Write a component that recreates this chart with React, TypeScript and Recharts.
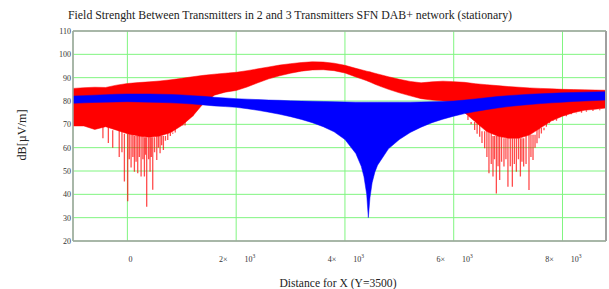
import {
  ComposedChart,
  Area,
  Line,
  XAxis,
  YAxis,
  CartesianGrid,
  ReferenceLine,
} from 'recharts'

// distance along X (Y=3500), sampled denser around the blue null
const X_POS = [
  -1000, -800, -600, -400, -200, 0, 200, 400, 600, 800,
  1000, 1200, 1400, 1600, 1800, 2000, 2200, 2400, 2600, 2800,
  3000, 3200, 3400, 3600, 3800, 4000, 4200,
  4300, 4350, 4400, 4430, 4460, 4500, 4550,
  4600, 4800, 5000, 5200, 5400, 5600, 5800, 6000,
  6200, 6400, 6600, 6800, 7000, 7200, 7400, 7600, 7800, 8000, 8200, 8400, 8600, 8800,
]

// 2 transmitters (red) – upper / lower envelope of the fading band, dB[µV/m]
const RED_HIGH = [
  85.4, 85.7, 85.9, 85.8, 86.8, 87.5, 87.9, 88.2, 88.6, 89.1,
  89.7, 90.4, 91.0, 91.5, 91.9, 92.3, 93.0, 93.8, 94.6, 95.4,
  96.0, 96.5, 96.8, 96.7, 96.2, 95.3, 94.0,
  93.4, 93.1, 92.8, 92.6, 92.5, 92.2, 91.9,
  91.6, 90.4, 89.3, 88.4, 87.8, 88.2, 88.5, 88.3,
  88.0, 87.4, 87.0, 86.6, 86.2, 85.9, 85.6, 85.4, 85.2, 85.0, 84.9, 84.8, 84.7, 84.6,
]
const RED_LOW = [
  69.3, 69.3, 67.8, 69.0, 67.5, 66.0, 65.0, 64.5, 65.0, 66.5,
  69.5, 73.5, 79.0, 82.5, 83.8, 84.5, 86.0, 87.8, 89.5, 90.8,
  91.9, 92.8, 93.3, 93.4, 93.0, 92.0, 90.3,
  89.5, 89.1, 88.7, 88.4, 88.1, 87.7, 87.2,
  86.7, 85.0, 83.5, 82.2, 81.0, 80.4, 80.0, 79.5,
  75.0, 71.0, 67.0, 65.0, 64.0, 64.0, 65.5, 68.5, 71.5, 73.5, 75.0, 76.0, 76.5, 77.0,
]

// 3 transmitters (blue)
const BLUE_HIGH = [
  82.1, 82.3, 82.5, 82.7, 82.9, 83.0, 83.0, 83.0, 82.9, 82.8,
  82.6, 82.3, 82.0, 81.6, 81.3, 81.0, 80.8, 80.6, 80.4, 80.3,
  80.1, 80.0, 79.9, 79.8, 79.7, 79.6, 79.5,
  79.5, 79.5, 79.5, 79.5, 79.5, 79.5, 79.5,
  79.5, 79.5, 79.5, 79.5, 79.6, 79.7, 79.8, 80.0,
  80.4, 80.9, 81.4, 81.9, 82.3, 82.6, 82.9, 83.1, 83.3, 83.5, 83.6, 83.8, 83.9, 84.0,
]
const BLUE_LOW = [
  79.0, 79.2, 79.4, 79.5, 79.6, 79.7, 79.6, 79.5, 79.4, 79.2,
  79.0, 78.7, 78.3, 77.9, 77.6, 77.3, 76.7, 76.0, 75.2, 74.3,
  73.3, 72.1, 70.7, 69.0, 66.8, 63.5, 57.5,
  52.0, 47.5, 40.0, 30.0, 38.5, 45.0, 49.5,
  52.5, 59.5, 63.5, 66.5, 68.8, 70.7, 72.2, 73.5,
  74.6, 75.5, 76.3, 77.0, 77.6, 78.1, 78.5, 78.9, 79.2, 79.5, 79.8, 80.0, 80.2, 80.4,
]

// deep fading notches of the red curve (position, depth)
const SPIKE_X = [
  -450, -350, -270, -150, -100, -55, 6, 35, 68, 100, 129, 160, 190, 220, 252, 285, 313, 335, 355, 390,
  417, 440, 466, 500, 540, 570, 601, 630, 662, 700, 742, 790, 834, 880, 926, 970, 1018, 1060, 1110, 1202,
  6262, 6320, 6385, 6430, 6477, 6520, 6569, 6610, 6648, 6690, 6722, 6750, 6784, 6815, 6845, 6880, 6924,
  6960, 6997, 7040, 7078, 7115, 7152, 7190, 7226, 7255, 7286, 7330, 7384, 7420, 7458, 7495, 7531, 7570,
  7612, 7660, 7704, 7760, 7826, 7890, 7949, 8010, 8072, 8160, 8256, 8350, 8440, 8560, 8685,
]
const SPIKE_DEPTH = [
  64, 62, 60, 56, 58, 45.5, 37, 55, 51.5, 56, 49.7, 54, 49, 56, 47.6, 55, 47.6, 57, 34.7, 55,
  49.7, 56, 42, 58, 54.7, 60, 57.6, 61, 59, 63, 63.3, 65, 66, 68, 69, 70.5, 72, 73, 74.7, 77,
  71.9, 70, 67.6, 66, 64.7, 62, 59.7, 56, 49, 53, 47.6, 55, 40.4, 52, 46.1, 54, 51.9,
  55, 43.3, 52, 43.3, 53, 49.7, 55, 47.6, 54, 51.9, 53, 41.9, 56, 54.7, 60, 61.9, 64,
  66.1, 67.5, 69, 70.5, 71.9, 72.5, 73.3, 73.5, 74, 74.3, 74.7, 75, 75.4, 75.7, 76,
]

const X_TICKS = [0, 2000, 4000, 6000, 8000]
const Y_TICKS = [20, 30, 40, 50, 60, 70, 80, 90, 100, 110]

const TITLE = 'Field Strenght Between Transmitters in 2 and 3 Transmitters SFN DAB+ network (stationary)'
const X_LABEL = 'Distance for X (Y=3500)'
const Y_LABEL = 'dB[µV/m]'

const SERIF = '"Liberation Serif", "Times New Roman", serif'
const GRID = '#80f580'
const FRAME = '#a0a0a0'

const rows = X_POS.map((x, i) => ({
  x,
  redLo: RED_LOW[i],
  redHi: RED_HIGH[i],
  blueLo: BLUE_LOW[i],
  blueHi: BLUE_HIGH[i],
}))

// each notch hangs from the bottom of the band (nearest sample, kept under the blue band)
function nearestIndex(x: number) {
  let best = 0
  X_POS.forEach((p, i) => {
    if (Math.abs(p - x) < Math.abs(X_POS[best] - x)) best = i
  })
  return best
}

const spikeRows = SPIKE_X.flatMap((x, i) => {
  const k = nearestIndex(x)
  const top = Math.min(RED_LOW[k], BLUE_LOW[k] - 0.8)
  return [
    { x, y: top },
    { x, y: SPIKE_DEPTH[i] },
    { x, y: null },
  ]
})

function XTick({ x, y, payload }: any) {
  const v = payload.value as number
  if (v === 0) {
    return (
      <text x={x + 3} y={y + 21} textAnchor="middle" fontSize={8} fill="#333" fontFamily={SERIF}>
        0
      </text>
    )
  }
  return (
    <text x={x + 1} y={y + 21} textAnchor="middle" fontSize={8} fill="#333" fontFamily={SERIF}>
      <tspan>{v / 1000}×</tspan>
      <tspan dx={17}>10</tspan>
      <tspan dy={-4} fontSize={5.5}>3</tspan>
    </text>
  )
}

function XLabel() {
  return (
    <text x={338} y={286.5} textAnchor="middle" fontSize={12.5} fill="#222" fontFamily={SERIF} textLength={117} lengthAdjust="spacingAndGlyphs">
      {X_LABEL}
    </text>
  )
}

function YLabel() {
  return (
    <text x={26} y={135} transform="rotate(-90 26 135)" textAnchor="middle" fontSize={12.5} fill="#222" fontFamily={SERIF} textLength={51} lengthAdjust="spacingAndGlyphs">
      {Y_LABEL}
    </text>
  )
}

export default function App() {
  return (
    <div style={{ position: 'absolute', left: 0, top: 0, width: 609, height: 289, background: '#fff' }}>
      <ComposedChart
        width={609}
        height={289}
        data={rows}
        margin={{ top: 31, right: 3, bottom: 0, left: 0 }}
      >
        <CartesianGrid stroke={GRID} strokeWidth={1} />
        <XAxis
          dataKey="x"
          type="number"
          domain={[-1000, 8800]}
          ticks={X_TICKS}
          allowDataOverflow
          height={48}
          tickLine={false}
          tickSize={0}
          tickMargin={0}
          axisLine={{ stroke: FRAME, strokeWidth: 1.5 }}
          tick={<XTick />}
          label={<XLabel />}
        />
        <YAxis
          type="number"
          domain={[20, 110]}
          ticks={Y_TICKS}
          interval={0}
          allowDataOverflow
          width={73}
          tickLine={false}
          tickSize={2}
          tickMargin={0}
          axisLine={{ stroke: FRAME, strokeWidth: 1.5 }}
          tick={{ fontSize: 8, fill: '#333', fontFamily: SERIF }}
          label={<YLabel />}
        />
        <Area
          dataKey={(d: any) => [d.redLo, d.redHi]}
          type="linear"
          fill="#ff0000"
          fillOpacity={1}
          stroke="#ff0000"
          strokeWidth={0.5}
          isAnimationActive={false}
        />
        <Area
          dataKey={(d: any) => [d.blueLo, d.blueHi]}
          type="linear"
          fill="#0000ff"
          fillOpacity={1}
          stroke="#0000ff"
          strokeWidth={0.5}
          isAnimationActive={false}
        />
        <Line
          data={spikeRows}
          dataKey="y"
          type="linear"
          stroke="#ff0000"
          strokeOpacity={0.7}
          strokeWidth={1.3}
          dot={false}
          connectNulls={false}
          isAnimationActive={false}
        />
        <ReferenceLine y={110} stroke={FRAME} strokeWidth={1.5} />
        <ReferenceLine x={8800} stroke={FRAME} strokeWidth={2} />
      </ComposedChart>
      <svg width={609} height={26} style={{ position: 'absolute', left: 0, top: 0, pointerEvents: 'none' }}>
        <text x={290} y={19} textAnchor="middle" fontSize={13} fill="#222" fontFamily={SERIF} textLength={444} lengthAdjust="spacingAndGlyphs">
          {TITLE}
        </text>
      </svg>
    </div>
  )
}
